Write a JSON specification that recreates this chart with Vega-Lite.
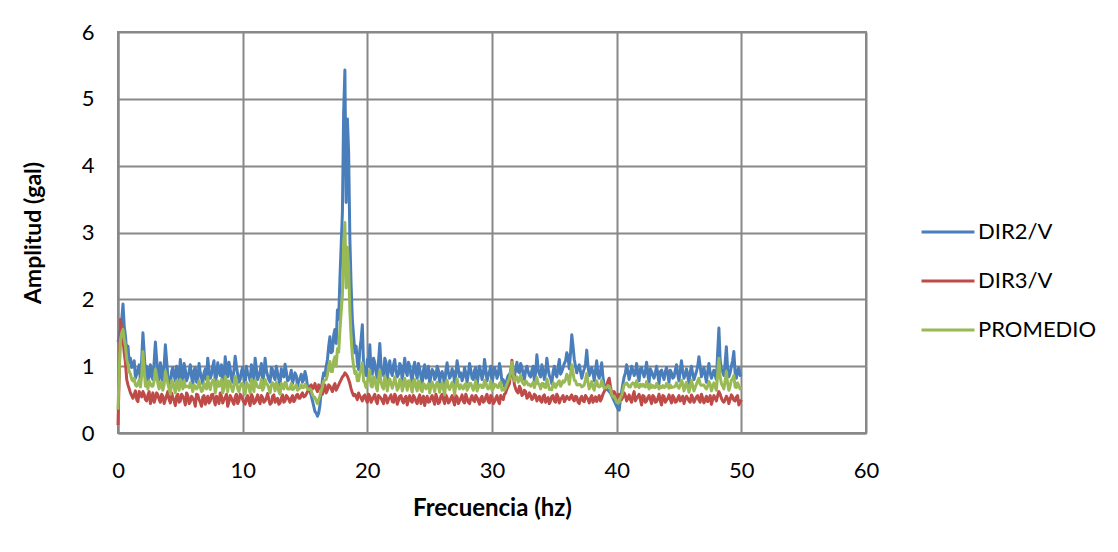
{
  "$schema": "https://vega.github.io/schema/vega-lite/v6.json",
  "autosize": "none",
  "width": 748,
  "height": 401,
  "padding": {"left": 118, "top": 32, "right": 252, "bottom": 119},
  "background": "white",
  "config": {
    "font": "Lato",
    "view": {"stroke": "#888888", "strokeWidth": 2},
    "axis": {"gridColor": "#888888", "gridWidth": 2, "domainColor": "#888888", "domainWidth": 2, "ticks": false, "labelFont": "Lato", "labelFontSize": 22, "labelColor": "#000000", "titleFont": "Lato", "titleFontSize": 23, "titleFontWeight": "bold", "titleColor": "#000000"},
    "legend": {"labelFont": "Lato", "labelFontSize": 22, "labelColor": "#000000"}
  },
  "data": {"values": [
{"f":0.0,"b":1.36,"r":0.12,"g":0.35},
{"f":0.2,"b":1.55,"r":1.70,"g":1.40},
{"f":0.4,"b":1.93,"r":1.40,"g":1.55},
{"f":0.6,"b":1.45,"r":1.05,"g":1.30},
{"f":0.8,"b":1.30,"r":0.72,"g":1.02},
{"f":1.0,"b":1.12,"r":0.60,"g":0.88},
{"f":1.2,"b":1.00,"r":0.52,"g":0.78},
{"f":1.4,"b":0.82,"r":0.63,"g":0.72},
{"f":1.6,"b":0.95,"r":0.47,"g":0.73},
{"f":1.8,"b":0.78,"r":0.58,"g":0.69},
{"f":2.0,"b":1.50,"r":0.62,"g":1.22},
{"f":2.2,"b":0.88,"r":0.50,"g":0.70},
{"f":2.4,"b":0.76,"r":0.57,"g":0.66},
{"f":2.6,"b":1.02,"r":0.44,"g":0.74},
{"f":2.8,"b":0.80,"r":0.60,"g":0.70},
{"f":3.0,"b":1.36,"r":0.52,"g":0.95},
{"f":3.2,"b":0.90,"r":0.57,"g":0.74},
{"f":3.4,"b":1.05,"r":0.46,"g":0.76},
{"f":3.6,"b":0.74,"r":0.55,"g":0.64},
{"f":3.8,"b":1.32,"r":0.50,"g":0.92},
{"f":4.0,"b":0.86,"r":0.62,"g":0.74},
{"f":4.2,"b":0.70,"r":0.45,"g":0.58},
{"f":4.4,"b":0.98,"r":0.53,"g":0.76},
{"f":4.6,"b":0.78,"r":0.41,"g":0.60},
{"f":4.8,"b":0.92,"r":0.58,"g":0.75},
{"f":5.0,"b":1.10,"r":0.48,"g":0.80},
{"f":5.2,"b":0.76,"r":0.55,"g":0.66},
{"f":5.4,"b":0.95,"r":0.42,"g":0.69},
{"f":5.6,"b":0.84,"r":0.56,"g":0.70},
{"f":5.8,"b":1.02,"r":0.47,"g":0.75},
{"f":6.0,"b":0.72,"r":0.52,"g":0.62},
{"f":6.2,"b":0.98,"r":0.40,"g":0.69},
{"f":6.4,"b":0.80,"r":0.57,"g":0.69},
{"f":6.6,"b":0.90,"r":0.46,"g":0.68},
{"f":6.8,"b":0.74,"r":0.54,"g":0.64},
{"f":7.0,"b":0.96,"r":0.43,"g":0.70},
{"f":7.2,"b":1.12,"r":0.55,"g":0.84},
{"f":7.4,"b":0.82,"r":0.48,"g":0.65},
{"f":7.6,"b":1.00,"r":0.58,"g":0.79},
{"f":7.8,"b":0.78,"r":0.42,"g":0.60},
{"f":8.0,"b":1.05,"r":0.51,"g":0.78},
{"f":8.2,"b":0.86,"r":0.60,"g":0.73},
{"f":8.4,"b":0.74,"r":0.45,"g":0.60},
{"f":8.6,"b":1.14,"r":0.53,"g":0.84},
{"f":8.8,"b":0.84,"r":0.40,"g":0.62},
{"f":9.0,"b":0.96,"r":0.56,"g":0.76},
{"f":9.2,"b":0.76,"r":0.47,"g":0.62},
{"f":9.4,"b":1.15,"r":0.54,"g":0.85},
{"f":9.6,"b":0.88,"r":0.44,"g":0.66},
{"f":9.8,"b":0.80,"r":0.58,"g":0.69},
{"f":10.0,"b":0.98,"r":0.50,"g":0.74},
{"f":10.2,"b":0.72,"r":0.43,"g":0.58},
{"f":10.4,"b":0.90,"r":0.56,"g":0.73},
{"f":10.6,"b":0.78,"r":0.41,"g":0.60},
{"f":10.8,"b":0.94,"r":0.54,"g":0.74},
{"f":11.0,"b":1.12,"r":0.46,"g":0.79},
{"f":11.2,"b":0.80,"r":0.57,"g":0.69},
{"f":11.4,"b":0.92,"r":0.44,"g":0.68},
{"f":11.6,"b":0.74,"r":0.53,"g":0.64},
{"f":11.8,"b":1.12,"r":0.48,"g":0.80},
{"f":12.0,"b":0.86,"r":0.59,"g":0.72},
{"f":12.2,"b":0.76,"r":0.43,"g":0.60},
{"f":12.4,"b":0.95,"r":0.55,"g":0.75},
{"f":12.6,"b":0.80,"r":0.46,"g":0.63},
{"f":12.8,"b":0.90,"r":0.52,"g":0.71},
{"f":13.0,"b":0.72,"r":0.45,"g":0.58},
{"f":13.2,"b":0.88,"r":0.57,"g":0.72},
{"f":13.4,"b":1.03,"r":0.48,"g":0.76},
{"f":13.6,"b":0.78,"r":0.54,"g":0.66},
{"f":13.8,"b":0.85,"r":0.46,"g":0.66},
{"f":14.0,"b":0.74,"r":0.56,"g":0.65},
{"f":14.2,"b":0.90,"r":0.50,"g":0.70},
{"f":14.4,"b":0.70,"r":0.58,"g":0.64},
{"f":14.6,"b":0.82,"r":0.52,"g":0.67},
{"f":14.8,"b":0.76,"r":0.60,"g":0.68},
{"f":15.0,"b":0.92,"r":0.55,"g":0.73},
{"f":15.2,"b":0.70,"r":0.62,"g":0.66},
{"f":15.4,"b":0.62,"r":0.70,"g":0.66},
{"f":15.6,"b":0.48,"r":0.66,"g":0.57},
{"f":15.8,"b":0.32,"r":0.74,"g":0.53},
{"f":16.0,"b":0.25,"r":0.62,"g":0.44},
{"f":16.2,"b":0.42,"r":0.70,"g":0.56},
{"f":16.4,"b":0.80,"r":0.58,"g":0.69},
{"f":16.6,"b":0.86,"r":0.72,"g":0.79},
{"f":16.8,"b":1.10,"r":0.64,"g":0.87},
{"f":17.0,"b":1.44,"r":0.70,"g":1.07},
{"f":17.2,"b":1.22,"r":0.62,"g":0.92},
{"f":17.4,"b":1.55,"r":0.74,"g":1.14},
{"f":17.6,"b":1.84,"r":0.68,"g":1.26},
{"f":17.7,"b":1.70,"r":0.72,"g":1.21},
{"f":17.8,"b":2.30,"r":0.76,"g":1.53},
{"f":17.9,"b":2.80,"r":0.80,"g":1.80},
{"f":18.0,"b":3.30,"r":0.84,"g":2.07},
{"f":18.1,"b":4.80,"r":0.86,"g":2.83},
{"f":18.2,"b":5.43,"r":0.90,"g":3.15},
{"f":18.3,"b":3.45,"r":0.88,"g":2.17},
{"f":18.4,"b":4.70,"r":0.85,"g":2.78},
{"f":18.5,"b":4.20,"r":0.80,"g":2.50},
{"f":18.6,"b":2.90,"r":0.74,"g":1.82},
{"f":18.7,"b":2.20,"r":0.66,"g":1.43},
{"f":18.8,"b":1.69,"r":0.60,"g":1.15},
{"f":18.9,"b":1.45,"r":0.56,"g":1.00},
{"f":19.0,"b":1.20,"r":0.58,"g":0.89},
{"f":19.2,"b":1.05,"r":0.50,"g":0.78},
{"f":19.4,"b":1.25,"r":0.55,"g":0.90},
{"f":19.6,"b":1.62,"r":0.48,"g":1.05},
{"f":19.8,"b":0.92,"r":0.57,"g":0.75},
{"f":20.0,"b":1.10,"r":0.46,"g":0.78},
{"f":20.2,"b":1.32,"r":0.55,"g":0.94},
{"f":20.4,"b":0.88,"r":0.50,"g":0.69},
{"f":20.6,"b":1.05,"r":0.58,"g":0.82},
{"f":20.8,"b":0.82,"r":0.44,"g":0.63},
{"f":21.0,"b":1.34,"r":0.54,"g":0.94},
{"f":21.2,"b":0.90,"r":0.48,"g":0.69},
{"f":21.4,"b":1.12,"r":0.57,"g":0.85},
{"f":21.6,"b":0.80,"r":0.45,"g":0.63},
{"f":21.8,"b":1.08,"r":0.53,"g":0.81},
{"f":22.0,"b":0.86,"r":0.47,"g":0.67},
{"f":22.2,"b":1.10,"r":0.58,"g":0.84},
{"f":22.4,"b":0.84,"r":0.43,"g":0.64},
{"f":22.6,"b":1.04,"r":0.55,"g":0.80},
{"f":22.8,"b":0.78,"r":0.48,"g":0.63},
{"f":23.0,"b":1.12,"r":0.52,"g":0.82},
{"f":23.2,"b":0.86,"r":0.42,"g":0.64},
{"f":23.4,"b":1.00,"r":0.56,"g":0.78},
{"f":23.6,"b":0.76,"r":0.46,"g":0.61},
{"f":23.8,"b":1.06,"r":0.53,"g":0.80},
{"f":24.0,"b":0.82,"r":0.44,"g":0.63},
{"f":24.2,"b":0.96,"r":0.57,"g":0.77},
{"f":24.4,"b":0.74,"r":0.49,"g":0.62},
{"f":24.6,"b":1.02,"r":0.41,"g":0.72},
{"f":24.8,"b":0.85,"r":0.55,"g":0.70},
{"f":25.0,"b":0.72,"r":0.47,"g":0.60},
{"f":25.2,"b":0.95,"r":0.56,"g":0.76},
{"f":25.4,"b":0.80,"r":0.43,"g":0.62},
{"f":25.6,"b":1.00,"r":0.52,"g":0.76},
{"f":25.8,"b":0.76,"r":0.46,"g":0.61},
{"f":26.0,"b":0.92,"r":0.58,"g":0.75},
{"f":26.2,"b":0.70,"r":0.44,"g":0.57},
{"f":26.4,"b":1.05,"r":0.53,"g":0.79},
{"f":26.6,"b":0.82,"r":0.47,"g":0.65},
{"f":26.8,"b":0.96,"r":0.56,"g":0.76},
{"f":27.0,"b":0.74,"r":0.42,"g":0.58},
{"f":27.2,"b":1.08,"r":0.54,"g":0.81},
{"f":27.4,"b":0.84,"r":0.48,"g":0.66},
{"f":27.6,"b":0.78,"r":0.57,"g":0.68},
{"f":27.8,"b":0.98,"r":0.45,"g":0.72},
{"f":28.0,"b":0.76,"r":0.52,"g":0.64},
{"f":28.2,"b":1.04,"r":0.44,"g":0.74},
{"f":28.4,"b":0.82,"r":0.56,"g":0.69},
{"f":28.6,"b":0.94,"r":0.47,"g":0.71},
{"f":28.8,"b":0.72,"r":0.53,"g":0.63},
{"f":29.0,"b":1.00,"r":0.43,"g":0.72},
{"f":29.2,"b":0.80,"r":0.55,"g":0.68},
{"f":29.4,"b":1.10,"r":0.48,"g":0.79},
{"f":29.6,"b":0.78,"r":0.58,"g":0.68},
{"f":29.8,"b":0.92,"r":0.45,"g":0.69},
{"f":30.0,"b":0.74,"r":0.54,"g":0.64},
{"f":30.2,"b":0.98,"r":0.47,"g":0.73},
{"f":30.4,"b":0.82,"r":0.56,"g":0.69},
{"f":30.6,"b":1.04,"r":0.44,"g":0.74},
{"f":30.8,"b":0.76,"r":0.52,"g":0.64},
{"f":31.0,"b":0.70,"r":0.58,"g":0.64},
{"f":31.2,"b":0.80,"r":0.66,"g":0.73},
{"f":31.4,"b":0.88,"r":0.74,"g":0.81},
{"f":31.6,"b":1.02,"r":1.09,"g":1.06},
{"f":31.8,"b":0.84,"r":0.72,"g":0.78},
{"f":32.0,"b":1.06,"r":0.62,"g":0.84},
{"f":32.2,"b":0.90,"r":0.70,"g":0.80},
{"f":32.4,"b":0.98,"r":0.56,"g":0.77},
{"f":32.6,"b":0.80,"r":0.64,"g":0.72},
{"f":32.8,"b":1.00,"r":0.52,"g":0.76},
{"f":33.0,"b":0.86,"r":0.60,"g":0.73},
{"f":33.2,"b":0.94,"r":0.50,"g":0.72},
{"f":33.4,"b":0.78,"r":0.58,"g":0.68},
{"f":33.6,"b":1.17,"r":0.48,"g":0.83},
{"f":33.8,"b":0.88,"r":0.55,"g":0.72},
{"f":34.0,"b":1.02,"r":0.46,"g":0.74},
{"f":34.2,"b":0.80,"r":0.57,"g":0.69},
{"f":34.4,"b":1.12,"r":0.50,"g":0.81},
{"f":34.6,"b":0.86,"r":0.44,"g":0.65},
{"f":34.8,"b":0.74,"r":0.55,"g":0.65},
{"f":35.0,"b":1.00,"r":0.48,"g":0.74},
{"f":35.2,"b":0.84,"r":0.58,"g":0.71},
{"f":35.4,"b":1.10,"r":0.45,"g":0.78},
{"f":35.6,"b":0.92,"r":0.53,"g":0.73},
{"f":35.8,"b":1.04,"r":0.47,"g":0.76},
{"f":36.0,"b":1.20,"r":0.55,"g":0.88},
{"f":36.2,"b":0.96,"r":0.50,"g":0.73},
{"f":36.4,"b":1.47,"r":0.57,"g":1.02},
{"f":36.6,"b":1.10,"r":0.48,"g":0.79},
{"f":36.8,"b":0.90,"r":0.54,"g":0.72},
{"f":37.0,"b":1.02,"r":0.44,"g":0.73},
{"f":37.2,"b":0.82,"r":0.55,"g":0.69},
{"f":37.4,"b":0.96,"r":0.47,"g":0.72},
{"f":37.6,"b":1.24,"r":0.53,"g":0.89},
{"f":37.8,"b":0.86,"r":0.45,"g":0.66},
{"f":38.0,"b":0.98,"r":0.56,"g":0.77},
{"f":38.2,"b":0.78,"r":0.50,"g":0.64},
{"f":38.4,"b":1.08,"r":0.47,"g":0.78},
{"f":38.6,"b":0.82,"r":0.56,"g":0.69},
{"f":38.8,"b":1.05,"r":0.52,"g":0.79},
{"f":39.0,"b":0.72,"r":0.62,"g":0.67},
{"f":39.2,"b":0.66,"r":0.70,"g":0.68},
{"f":39.4,"b":0.62,"r":0.82,"g":0.70},
{"f":39.6,"b":0.56,"r":0.60,"g":0.58},
{"f":39.8,"b":0.48,"r":0.62,"g":0.55},
{"f":40.0,"b":0.40,"r":0.52,"g":0.46},
{"f":40.2,"b":0.34,"r":0.58,"g":0.46},
{"f":40.4,"b":0.62,"r":0.50,"g":0.56},
{"f":40.6,"b":0.84,"r":0.60,"g":0.72},
{"f":40.8,"b":1.02,"r":0.48,"g":0.75},
{"f":41.0,"b":0.80,"r":0.57,"g":0.69},
{"f":41.2,"b":1.00,"r":0.46,"g":0.73},
{"f":41.4,"b":0.86,"r":0.62,"g":0.74},
{"f":41.6,"b":1.04,"r":0.52,"g":0.78},
{"f":41.8,"b":0.78,"r":0.58,"g":0.68},
{"f":42.0,"b":0.98,"r":0.42,"g":0.70},
{"f":42.2,"b":0.84,"r":0.55,"g":0.70},
{"f":42.4,"b":1.06,"r":0.48,"g":0.77},
{"f":42.6,"b":0.76,"r":0.56,"g":0.66},
{"f":42.8,"b":0.92,"r":0.44,"g":0.68},
{"f":43.0,"b":0.82,"r":0.54,"g":0.68},
{"f":43.2,"b":1.00,"r":0.47,"g":0.74},
{"f":43.4,"b":0.74,"r":0.58,"g":0.66},
{"f":43.6,"b":0.94,"r":0.42,"g":0.68},
{"f":43.8,"b":0.80,"r":0.55,"g":0.68},
{"f":44.0,"b":0.98,"r":0.49,"g":0.74},
{"f":44.2,"b":0.76,"r":0.57,"g":0.67},
{"f":44.4,"b":0.90,"r":0.45,"g":0.68},
{"f":44.6,"b":0.84,"r":0.53,"g":0.69},
{"f":44.8,"b":1.02,"r":0.47,"g":0.75},
{"f":45.0,"b":0.78,"r":0.56,"g":0.67},
{"f":45.2,"b":1.08,"r":0.50,"g":0.79},
{"f":45.4,"b":0.82,"r":0.44,"g":0.63},
{"f":45.6,"b":0.96,"r":0.55,"g":0.76},
{"f":45.8,"b":0.74,"r":0.48,"g":0.61},
{"f":46.0,"b":1.00,"r":0.57,"g":0.79},
{"f":46.2,"b":0.80,"r":0.46,"g":0.63},
{"f":46.4,"b":0.92,"r":0.54,"g":0.73},
{"f":46.6,"b":1.14,"r":0.49,"g":0.82},
{"f":46.8,"b":0.84,"r":0.58,"g":0.71},
{"f":47.0,"b":0.98,"r":0.45,"g":0.72},
{"f":47.2,"b":0.76,"r":0.55,"g":0.66},
{"f":47.4,"b":1.04,"r":0.50,"g":0.77},
{"f":47.6,"b":0.82,"r":0.43,"g":0.63},
{"f":47.8,"b":0.94,"r":0.56,"g":0.75},
{"f":48.0,"b":0.80,"r":0.48,"g":0.64},
{"f":48.2,"b":1.57,"r":0.62,"g":1.12},
{"f":48.4,"b":0.96,"r":0.52,"g":0.74},
{"f":48.6,"b":0.86,"r":0.46,"g":0.66},
{"f":48.8,"b":1.29,"r":0.55,"g":0.92},
{"f":49.0,"b":0.84,"r":0.44,"g":0.64},
{"f":49.2,"b":1.00,"r":0.57,"g":0.79},
{"f":49.4,"b":1.22,"r":0.49,"g":0.86},
{"f":49.6,"b":0.82,"r":0.54,"g":0.68},
{"f":49.8,"b":0.98,"r":0.42,"g":0.70},
{"f":50.0,"b":0.88,"r":0.50,"g":0.69},
{"f":0.1,"b":1.45,"r":0.90,"g":0.95},
{"f":0.3,"b":1.70,"r":1.55,"g":1.50},
{"f":0.5,"b":1.60,"r":1.20,"g":1.40},
{"f":0.7,"b":1.20,"r":0.80,"g":1.10},
{"f":0.9,"b":1.05,"r":0.66,"g":0.92},
{"f":1.1,"b":0.98,"r":0.56,"g":0.80},
{"f":1.3,"b":1.08,"r":0.58,"g":0.82},
{"f":1.5,"b":0.88,"r":0.50,"g":0.70},
{"f":1.7,"b":1.02,"r":0.62,"g":0.80},
{"f":1.9,"b":1.10,"r":0.54,"g":0.86},
{"f":2.1,"b":1.20,"r":0.58,"g":0.95},
{"f":2.3,"b":1.00,"r":0.48,"g":0.76},
{"f":2.5,"b":0.90,"r":0.62,"g":0.78},
{"f":2.7,"b":0.84,"r":0.52,"g":0.70},
{"f":2.9,"b":1.06,"r":0.46,"g":0.78},
{"f":3.1,"b":1.10,"r":0.60,"g":0.86},
{"f":3.3,"b":0.80,"r":0.50,"g":0.66},
{"f":3.5,"b":0.92,"r":0.58,"g":0.76},
{"f":3.7,"b":1.00,"r":0.44,"g":0.72},
{"f":3.9,"b":1.08,"r":0.56,"g":0.84},
{"f":4.1,"b":0.78,"r":0.50,"g":0.66},
{"f":4.3,"b":0.92,"r":0.60,"g":0.78},
{"f":4.5,"b":0.86,"r":0.48,"g":0.68},
{"f":4.7,"b":1.00,"r":0.55,"g":0.78},
{"f":4.9,"b":0.80,"r":0.46,"g":0.64},
{"f":5.1,"b":0.88,"r":0.58,"g":0.74},
{"f":5.3,"b":1.04,"r":0.50,"g":0.78},
{"f":5.5,"b":0.78,"r":0.60,"g":0.70},
{"f":5.7,"b":0.92,"r":0.44,"g":0.68},
{"f":5.9,"b":0.84,"r":0.55,"g":0.70},
{"f":6.1,"b":0.94,"r":0.48,"g":0.72},
{"f":6.3,"b":0.76,"r":0.58,"g":0.66},
{"f":6.5,"b":1.04,"r":0.50,"g":0.78},
{"f":6.7,"b":0.82,"r":0.40,"g":0.62},
{"f":6.9,"b":0.90,"r":0.56,"g":0.74},
{"f":7.1,"b":0.80,"r":0.50,"g":0.66},
{"f":7.3,"b":0.94,"r":0.45,"g":0.70},
{"f":7.5,"b":0.88,"r":0.57,"g":0.74},
{"f":7.7,"b":1.08,"r":0.49,"g":0.80},
{"f":7.9,"b":0.84,"r":0.55,"g":0.70},
{"f":8.1,"b":0.94,"r":0.44,"g":0.70},
{"f":8.3,"b":1.02,"r":0.55,"g":0.80},
{"f":8.5,"b":0.82,"r":0.50,"g":0.66},
{"f":8.7,"b":0.96,"r":0.58,"g":0.78},
{"f":8.9,"b":1.06,"r":0.47,"g":0.78},
{"f":9.1,"b":0.82,"r":0.52,"g":0.68},
{"f":9.3,"b":0.94,"r":0.43,"g":0.70},
{"f":9.5,"b":1.00,"r":0.58,"g":0.80},
{"f":9.7,"b":0.76,"r":0.48,"g":0.62},
{"f":9.9,"b":0.92,"r":0.55,"g":0.74},
{"f":10.1,"b":0.84,"r":0.46,"g":0.66},
{"f":10.3,"b":1.00,"r":0.52,"g":0.76},
{"f":10.5,"b":0.86,"r":0.47,"g":0.68},
{"f":10.7,"b":1.02,"r":0.58,"g":0.80},
{"f":10.9,"b":0.80,"r":0.44,"g":0.62},
{"f":11.1,"b":0.96,"r":0.52,"g":0.74},
{"f":11.3,"b":0.86,"r":0.48,"g":0.68},
{"f":11.5,"b":1.04,"r":0.56,"g":0.80},
{"f":11.7,"b":0.88,"r":0.46,"g":0.68},
{"f":11.9,"b":0.94,"r":0.52,"g":0.74},
{"f":12.1,"b":0.80,"r":0.50,"g":0.66},
{"f":12.3,"b":0.98,"r":0.45,"g":0.72},
{"f":12.5,"b":0.84,"r":0.57,"g":0.72},
{"f":12.7,"b":1.00,"r":0.50,"g":0.76},
{"f":12.9,"b":0.80,"r":0.43,"g":0.62},
{"f":13.1,"b":0.96,"r":0.52,"g":0.74},
{"f":13.3,"b":0.84,"r":0.46,"g":0.66},
{"f":13.5,"b":0.92,"r":0.56,"g":0.74},
{"f":13.7,"b":0.80,"r":0.50,"g":0.66},
{"f":13.9,"b":0.94,"r":0.52,"g":0.74},
{"f":14.1,"b":0.82,"r":0.47,"g":0.66},
{"f":14.3,"b":0.86,"r":0.56,"g":0.72},
{"f":14.5,"b":0.78,"r":0.52,"g":0.66},
{"f":14.7,"b":0.88,"r":0.57,"g":0.72},
{"f":14.9,"b":0.80,"r":0.54,"g":0.68},
{"f":15.1,"b":0.84,"r":0.58,"g":0.70},
{"f":15.3,"b":0.66,"r":0.64,"g":0.65},
{"f":15.5,"b":0.56,"r":0.72,"g":0.64},
{"f":15.7,"b":0.40,"r":0.68,"g":0.54},
{"f":15.9,"b":0.30,"r":0.66,"g":0.48},
{"f":16.1,"b":0.30,"r":0.72,"g":0.50},
{"f":16.3,"b":0.62,"r":0.64,"g":0.63},
{"f":16.5,"b":0.90,"r":0.66,"g":0.78},
{"f":16.7,"b":1.00,"r":0.60,"g":0.80},
{"f":16.9,"b":1.30,"r":0.72,"g":1.00},
{"f":17.1,"b":1.20,"r":0.66,"g":0.92},
{"f":17.3,"b":1.46,"r":0.70,"g":1.08},
{"f":17.5,"b":1.34,"r":0.64,"g":1.00},
{"f":19.1,"b":1.30,"r":0.54,"g":0.92},
{"f":19.3,"b":0.95,"r":0.60,"g":0.78},
{"f":19.5,"b":1.40,"r":0.52,"g":0.96},
{"f":19.7,"b":1.00,"r":0.55,"g":0.78},
{"f":19.9,"b":0.86,"r":0.50,"g":0.68},
{"f":20.1,"b":1.00,"r":0.58,"g":0.78},
{"f":20.3,"b":0.92,"r":0.46,"g":0.70},
{"f":20.5,"b":1.12,"r":0.54,"g":0.84},
{"f":20.7,"b":0.90,"r":0.48,"g":0.70},
{"f":20.9,"b":1.08,"r":0.56,"g":0.82},
{"f":21.1,"b":1.00,"r":0.52,"g":0.76},
{"f":21.3,"b":0.86,"r":0.44,"g":0.66},
{"f":21.5,"b":1.06,"r":0.55,"g":0.80},
{"f":21.7,"b":0.96,"r":0.50,"g":0.74},
{"f":21.9,"b":0.92,"r":0.57,"g":0.74},
{"f":22.1,"b":1.02,"r":0.46,"g":0.74},
{"f":22.3,"b":0.92,"r":0.54,"g":0.74},
{"f":22.5,"b":0.88,"r":0.49,"g":0.68},
{"f":22.7,"b":1.00,"r":0.56,"g":0.78},
{"f":22.9,"b":0.96,"r":0.45,"g":0.70},
{"f":23.1,"b":0.92,"r":0.55,"g":0.74},
{"f":23.3,"b":1.06,"r":0.50,"g":0.78},
{"f":23.5,"b":0.86,"r":0.48,"g":0.68},
{"f":23.7,"b":0.98,"r":0.56,"g":0.78},
{"f":23.9,"b":0.90,"r":0.47,"g":0.68},
{"f":24.1,"b":1.04,"r":0.52,"g":0.78},
{"f":24.3,"b":0.84,"r":0.44,"g":0.64},
{"f":24.5,"b":0.94,"r":0.55,"g":0.74},
{"f":24.7,"b":0.82,"r":0.50,"g":0.66},
{"f":24.9,"b":1.00,"r":0.46,"g":0.74},
{"f":25.1,"b":0.86,"r":0.53,"g":0.70},
{"f":25.3,"b":0.92,"r":0.49,"g":0.70},
{"f":25.5,"b":0.84,"r":0.58,"g":0.72},
{"f":25.7,"b":0.94,"r":0.44,"g":0.70},
{"f":25.9,"b":0.88,"r":0.55,"g":0.72},
{"f":26.1,"b":0.84,"r":0.50,"g":0.66},
{"f":26.3,"b":0.94,"r":0.57,"g":0.76},
{"f":26.5,"b":0.90,"r":0.45,"g":0.68},
{"f":26.7,"b":0.86,"r":0.52,"g":0.70},
{"f":26.9,"b":0.92,"r":0.48,"g":0.70},
{"f":27.1,"b":0.88,"r":0.56,"g":0.72},
{"f":27.3,"b":0.96,"r":0.44,"g":0.70},
{"f":27.5,"b":0.90,"r":0.52,"g":0.72},
{"f":27.7,"b":0.84,"r":0.47,"g":0.66},
{"f":27.9,"b":0.90,"r":0.58,"g":0.74},
{"f":28.1,"b":0.88,"r":0.46,"g":0.68},
{"f":28.3,"b":0.94,"r":0.52,"g":0.74},
{"f":28.5,"b":0.80,"r":0.49,"g":0.64},
{"f":28.7,"b":0.98,"r":0.56,"g":0.78},
{"f":28.9,"b":0.86,"r":0.48,"g":0.68},
{"f":29.1,"b":0.92,"r":0.52,"g":0.72},
{"f":29.3,"b":0.88,"r":0.46,"g":0.68},
{"f":29.5,"b":0.96,"r":0.54,"g":0.76},
{"f":29.7,"b":0.86,"r":0.47,"g":0.66},
{"f":29.9,"b":1.00,"r":0.56,"g":0.78},
{"f":30.1,"b":0.86,"r":0.44,"g":0.66},
{"f":30.3,"b":0.92,"r":0.52,"g":0.72},
{"f":30.5,"b":0.88,"r":0.48,"g":0.68},
{"f":30.7,"b":0.94,"r":0.56,"g":0.76},
{"f":30.9,"b":0.80,"r":0.50,"g":0.66},
{"f":31.1,"b":0.76,"r":0.60,"g":0.68},
{"f":31.3,"b":0.86,"r":0.70,"g":0.78},
{"f":31.5,"b":0.92,"r":0.90,"g":0.92},
{"f":31.7,"b":0.90,"r":0.86,"g":0.88},
{"f":31.9,"b":0.96,"r":0.66,"g":0.82},
{"f":32.1,"b":0.92,"r":0.60,"g":0.76},
{"f":32.3,"b":1.04,"r":0.66,"g":0.86},
{"f":32.5,"b":0.88,"r":0.58,"g":0.74},
{"f":32.7,"b":0.94,"r":0.62,"g":0.78},
{"f":32.9,"b":0.92,"r":0.54,"g":0.72},
{"f":33.1,"b":0.84,"r":0.56,"g":0.70},
{"f":33.3,"b":1.00,"r":0.52,"g":0.76},
{"f":33.5,"b":0.90,"r":0.56,"g":0.74},
{"f":33.7,"b":0.96,"r":0.52,"g":0.74},
{"f":33.9,"b":0.84,"r":0.48,"g":0.66},
{"f":34.1,"b":0.94,"r":0.55,"g":0.74},
{"f":34.3,"b":0.90,"r":0.46,"g":0.68},
{"f":34.5,"b":0.96,"r":0.53,"g":0.74},
{"f":34.7,"b":0.82,"r":0.48,"g":0.66},
{"f":34.9,"b":0.92,"r":0.56,"g":0.74},
{"f":35.1,"b":0.88,"r":0.46,"g":0.68},
{"f":35.3,"b":0.98,"r":0.54,"g":0.76},
{"f":35.5,"b":0.88,"r":0.50,"g":0.70},
{"f":35.7,"b":0.98,"r":0.56,"g":0.78},
{"f":35.9,"b":1.08,"r":0.50,"g":0.80},
{"f":36.1,"b":1.14,"r":0.52,"g":0.84},
{"f":36.3,"b":1.20,"r":0.54,"g":0.88},
{"f":36.5,"b":1.30,"r":0.50,"g":0.90},
{"f":36.7,"b":1.00,"r":0.55,"g":0.78},
{"f":36.9,"b":0.98,"r":0.46,"g":0.72},
{"f":37.1,"b":0.92,"r":0.52,"g":0.72},
{"f":37.3,"b":0.90,"r":0.48,"g":0.70},
{"f":37.5,"b":1.04,"r":0.56,"g":0.80},
{"f":37.7,"b":1.00,"r":0.50,"g":0.76},
{"f":37.9,"b":0.92,"r":0.52,"g":0.72},
{"f":38.1,"b":0.90,"r":0.46,"g":0.68},
{"f":38.3,"b":0.94,"r":0.54,"g":0.74},
{"f":38.5,"b":0.88,"r":0.52,"g":0.70},
{"f":38.7,"b":0.92,"r":0.48,"g":0.70},
{"f":38.9,"b":0.84,"r":0.58,"g":0.72},
{"f":39.1,"b":0.70,"r":0.66,"g":0.68},
{"f":39.3,"b":0.64,"r":0.78,"g":0.71},
{"f":39.5,"b":0.60,"r":0.70,"g":0.65},
{"f":39.7,"b":0.52,"r":0.56,"g":0.54},
{"f":39.9,"b":0.44,"r":0.58,"g":0.51},
{"f":40.1,"b":0.36,"r":0.54,"g":0.45},
{"f":40.3,"b":0.50,"r":0.56,"g":0.53},
{"f":40.5,"b":0.74,"r":0.54,"g":0.64},
{"f":40.7,"b":0.90,"r":0.56,"g":0.73},
{"f":40.9,"b":0.92,"r":0.52,"g":0.72},
{"f":41.1,"b":0.88,"r":0.50,"g":0.69},
{"f":41.3,"b":0.94,"r":0.56,"g":0.75},
{"f":41.5,"b":0.90,"r":0.48,"g":0.69},
{"f":41.7,"b":0.86,"r":0.55,"g":0.70},
{"f":41.9,"b":0.96,"r":0.50,"g":0.73},
{"f":42.1,"b":0.90,"r":0.56,"g":0.73},
{"f":42.3,"b":0.92,"r":0.46,"g":0.69},
{"f":42.5,"b":0.88,"r":0.53,"g":0.70},
{"f":42.7,"b":0.96,"r":0.50,"g":0.73},
{"f":42.9,"b":0.86,"r":0.56,"g":0.71},
{"f":43.1,"b":0.90,"r":0.46,"g":0.68},
{"f":43.3,"b":0.88,"r":0.52,"g":0.70},
{"f":43.5,"b":0.92,"r":0.48,"g":0.70},
{"f":43.7,"b":0.86,"r":0.56,"g":0.71},
{"f":43.9,"b":0.92,"r":0.46,"g":0.69},
{"f":44.1,"b":0.88,"r":0.52,"g":0.70},
{"f":44.3,"b":0.94,"r":0.50,"g":0.72},
{"f":44.5,"b":0.82,"r":0.56,"g":0.69},
{"f":44.7,"b":0.94,"r":0.46,"g":0.70},
{"f":44.9,"b":0.88,"r":0.52,"g":0.70},
{"f":45.1,"b":0.94,"r":0.48,"g":0.71},
{"f":45.3,"b":0.92,"r":0.55,"g":0.74},
{"f":45.5,"b":0.88,"r":0.50,"g":0.69},
{"f":45.7,"b":0.86,"r":0.52,"g":0.69},
{"f":45.9,"b":0.92,"r":0.46,"g":0.69},
{"f":46.1,"b":0.88,"r":0.53,"g":0.71},
{"f":46.3,"b":0.86,"r":0.50,"g":0.68},
{"f":46.5,"b":1.00,"r":0.56,"g":0.78},
{"f":46.7,"b":1.00,"r":0.46,"g":0.73},
{"f":46.9,"b":0.92,"r":0.52,"g":0.72},
{"f":47.1,"b":0.86,"r":0.50,"g":0.68},
{"f":47.3,"b":0.92,"r":0.47,"g":0.70},
{"f":47.5,"b":0.90,"r":0.56,"g":0.73},
{"f":47.7,"b":0.88,"r":0.50,"g":0.69},
{"f":47.9,"b":0.86,"r":0.52,"g":0.69},
{"f":48.1,"b":1.20,"r":0.56,"g":0.88},
{"f":48.3,"b":1.10,"r":0.58,"g":0.84},
{"f":48.5,"b":0.92,"r":0.48,"g":0.70},
{"f":48.7,"b":1.05,"r":0.50,"g":0.78},
{"f":48.9,"b":0.96,"r":0.52,"g":0.74},
{"f":49.1,"b":0.90,"r":0.50,"g":0.70},
{"f":49.3,"b":1.08,"r":0.54,"g":0.81},
{"f":49.5,"b":0.90,"r":0.48,"g":0.69},
{"f":49.7,"b":0.94,"r":0.56,"g":0.75},
{"f":49.9,"b":0.86,"r":0.46,"g":0.66}
  ]},
  "transform": [{"fold": ["b", "r", "g"], "as": ["s", "a"]}],
  "mark": {"type": "line", "strokeWidth": 3, "strokeJoin": "round"},
  "encoding": {
    "x": {"field": "f", "type": "quantitative", "sort": "ascending", "scale": {"domain": [0, 60], "nice": false}, "axis": {"values": [0, 10, 20, 30, 40, 50, 60], "title": "Frecuencia (hz)", "titleFontSize": 24, "labelPadding": 27, "titlePadding": 15, "labelFlush": false}},
    "y": {"field": "a", "type": "quantitative", "scale": {"domain": [0, 6], "nice": false}, "axis": {"values": [0, 1, 2, 3, 4, 5, 6], "title": "Amplitud (gal)", "labelPadding": 24, "titlePadding": 36, "labelFlush": false}},
    "color": {"field": "s", "type": "nominal", "scale": {"domain": ["b", "r", "g"], "range": ["#4A7EBB", "#BE4B48", "#98B954"]},
      "legend": {"title": null, "orient": "none", "legendX": 802, "legendY": 172, "symbolType": "stroke", "symbolSize": 2809, "symbolStrokeWidth": 3, "labelOffset": 2, "rowPadding": 10,
        "labelExpr": "datum.label == 'b' ? 'DIR2/V' : datum.label == 'r' ? 'DIR3/V' : 'PROMEDIO'"}}
  }
}
